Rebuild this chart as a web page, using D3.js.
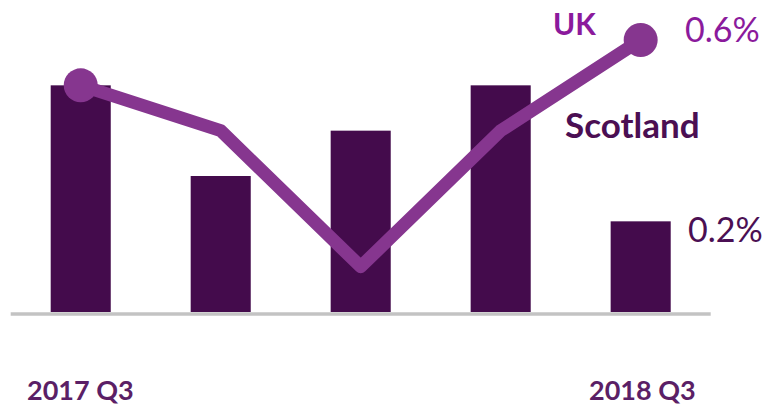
<!DOCTYPE html>
<html>
<head>
<meta charset="utf-8">
<script src="https://cdn.jsdelivr.net/npm/d3@7"></script>
<style>
  body { margin: 0; background: #fff; }
  svg { display: block; font-family: Lato, "Open Sans", sans-serif; }
</style>
</head>
<body>
<svg id="chart"></svg>
<script>
const quarters = ["2017 Q3", "2017 Q4", "2018 Q1", "2018 Q2", "2018 Q3"];
const scotland = [0.5, 0.3, 0.4, 0.5, 0.2];
const uk = [0.5, 0.4, 0.1, 0.4, 0.6];
const axisLabels = ["2017 Q3", "2018 Q3"];

const width = 777;
const height = 409;

const svg = d3.select("#chart").attr("width", width).attr("height", height);

const x = d3.scaleBand()
  .domain(quarters)
  .range([10.7, 710.7])
  .paddingInner(0.571)
  .paddingOuter(0.2857);

const y = d3.scaleLinear().domain([0, 0.6]).range([312, 40]);

const fmt = (v) => d3.format(".1f")(v) + "%";

// bars for Scotland
svg.selectAll("rect.bar")
  .data(scotland)
  .join("rect")
  .attr("class", "bar")
  .attr("x", (d, i) => x(quarters[i]))
  .attr("y", (d) => y(d))
  .attr("width", x.bandwidth())
  .attr("height", (d) => y(0) - y(d))
  .attr("fill", "#440b4c");

// baseline
svg.append("line")
  .attr("x1", x.range()[0]).attr("x2", x.range()[1])
  .attr("y1", y(0) + 2).attr("y2", y(0) + 2)
  .attr("stroke", "#c3c3c3")
  .attr("stroke-width", 3.5);

// UK line
const cx = (i) => x(quarters[i]) + x.bandwidth() / 2;
const line = d3.line().x((d, i) => cx(i)).y((d) => y(d));

svg.append("path")
  .datum(uk)
  .attr("d", line)
  .attr("fill", "none")
  .attr("stroke", "#86368f")
  .attr("stroke-width", 13)
  .attr("stroke-linejoin", "round");

const last = uk.length - 1;
svg.selectAll("circle.end")
  .data([0, last])
  .join("circle")
  .attr("class", "end")
  .attr("cx", (i) => cx(i))
  .attr("cy", (i) => y(uk[i]))
  .attr("r", 17)
  .attr("fill", "#86368f");

// labels
svg.append("text")
  .attr("x", 553).attr("y", 35)
  .attr("font-size", 30).attr("font-weight", "bold")
  .attr("fill", "#8b1a9c")
  .text("UK");

svg.append("text")
  .attr("x", 685).attr("y", 42)
  .attr("font-size", 34)
  .attr("fill", "#8b1a9c")
  .text(fmt(uk[last]));

svg.append("text")
  .attr("x", 565).attr("y", 138)
  .attr("font-size", 35).attr("font-weight", "bold")
  .attr("fill", "#4b0f53")
  .text("Scotland");

svg.append("text")
  .attr("x", 688).attr("y", 242)
  .attr("font-size", 34)
  .attr("fill", "#4b0f53")
  .text(fmt(scotland[last]));

svg.selectAll("text.axis")
  .data(axisLabels)
  .join("text")
  .attr("class", "axis")
  .attr("x", (d, i) => i === 0 ? 27 : 589)
  .attr("y", 400)
  .attr("font-size", 27).attr("font-weight", "bold")
  .attr("fill", "#5b1f66")
  .text((d) => d);
</script>
</body>
</html>
